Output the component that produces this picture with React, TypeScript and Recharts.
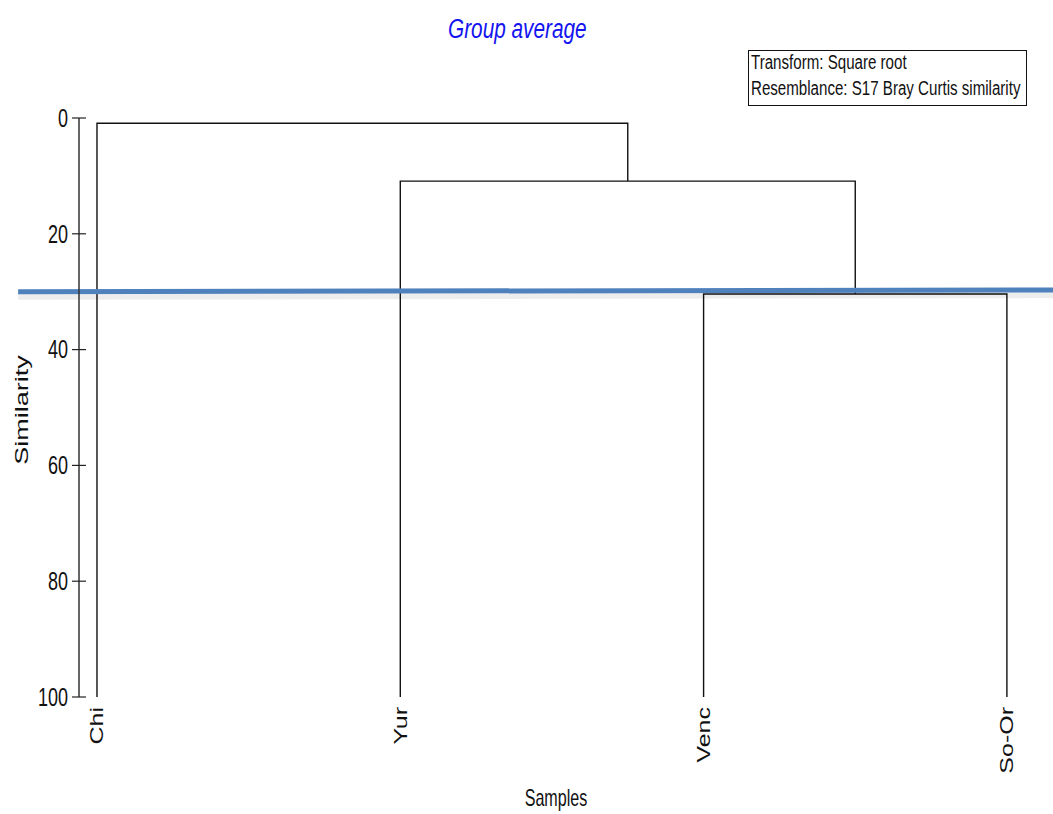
import { Line, LineChart, ReferenceLine, XAxis, YAxis } from "recharts";

// leaves of the dendrogram, left to right
const samples = ["Chi", "Yur", "Venc", "So-Or"];
// merges: cluster ids (0-3 = leaves, 4+ = earlier merges) and similarity of the join
const mergeLeft = [2, 1, 0];
const mergeRight = [3, 4, 5];
const mergeSimilarity = [30.4, 10.9, 0.9];
const similarityTicks = [0, 20, 40, 60, 80, 100];
// cut line drawn across the tree (start / end)
const cutX = [-0.26, 3.152];
const cutSimilarity = [30.0, 29.7];

const INK = "#111";
const CUT = "#4f81bd";
const FONT = '"Liberation Sans", Arial, sans-serif';

type Pt = { x: number; y: number };

function buildLinks() {
  const pos: number[] = samples.map((_, i) => i);
  const height: number[] = samples.map(() => 100);
  const links: Pt[][] = [];
  mergeLeft.forEach((a, i) => {
    const b = mergeRight[i];
    const h = mergeSimilarity[i];
    links.push([
      { x: pos[a], y: height[a] },
      { x: pos[a], y: h },
      { x: pos[b], y: h },
      { x: pos[b], y: height[b] },
    ]);
    pos.push((pos[a] + pos[b]) / 2);
    height.push(h);
  });
  return links;
}

function YTick({ x, y, payload }: any) {
  return (
    <g>
      <line x1={x - 7} x2={x + 7} y1={y} y2={y} stroke="#222" strokeWidth={1.2} />
      <text
        transform={`translate(${x - 11},${y}) scale(0.72,1)`}
        textAnchor="end"
        dy="0.35em"
        fontSize={25}
        fontFamily={FONT}
        fill="#111"
      >
        {payload.value}
      </text>
    </g>
  );
}

function XTick({ x, y, payload }: any) {
  return (
    <text
      transform={`translate(${x},${y + 10}) scale(0.73,1) rotate(-90)`}
      textAnchor="end"
      dy="0.35em"
      fontSize={25}
      fontFamily={FONT}
      fill="#111"
    >
      {samples[payload.value]}
    </text>
  );
}

export default function App() {
  const links = buildLinks();
  return (
    <div style={{ position: "absolute", left: 0, top: 0, width: 1053, height: 814, background: "#fff" }}>
      <LineChart width={1053} height={814} margin={{ top: 118, right: 0, bottom: 0, left: 0 }}>
        <XAxis
          type="number"
          dataKey="x"
          domain={[-0.0593, 3.152]}
          ticks={[0, 1, 2, 3]}
          interval={0}
          height={117}
          axisLine={false}
          tickLine={false}
          tickSize={0}
          tickMargin={0}
          tick={<XTick />}
          label={{
            content: () => (
              <text
                transform="translate(556,806) scale(0.7,1)"
                textAnchor="middle"
                fontSize={23}
                fontFamily={FONT}
                fill="#111"
              >
                Samples
              </text>
            ),
          }}
        />
        <YAxis
          type="number"
          reversed
          domain={[0, 100]}
          ticks={similarityTicks}
          interval={0}
          width={79}
          axisLine={{ stroke: "#333", strokeWidth: 1.5 }}
          tickLine={false}
          tickSize={0}
          tickMargin={0}
          tick={<YTick />}
          label={{
            content: () => (
              <text
                transform="translate(28,410) scale(0.69,1) rotate(-90)"
                textAnchor="middle"
                fontSize={27}
                fontFamily={FONT}
                fill="#111"
              >
                Similarity
              </text>
            ),
          }}
        />
        {links.map((pts, i) => (
          <Line
            key={i}
            data={pts}
            dataKey="y"
            type="linear"
            stroke={INK}
            strokeWidth={1.4}
            dot={false}
            activeDot={false}
            isAnimationActive={false}
          />
        ))}
        <ReferenceLine
          segment={[
            { x: cutX[0], y: cutSimilarity[0] + 0.8 },
            { x: cutX[1], y: cutSimilarity[1] + 0.8 },
          ]}
          stroke="#000"
          strokeOpacity={0.07}
          strokeWidth={7}
          ifOverflow="visible"
        />
        <ReferenceLine
          segment={[
            { x: cutX[0], y: cutSimilarity[0] },
            { x: cutX[1], y: cutSimilarity[1] },
          ]}
          stroke={CUT}
          strokeWidth={5}
          ifOverflow="visible"
        />
      </LineChart>
      <svg
        width={1053}
        height={814}
        style={{ position: "absolute", left: 0, top: 0, pointerEvents: "none" }}
      >
        <text
          transform="translate(448,38) scale(0.77,1)"
          fontSize={27}
          fontStyle="italic"
          fontFamily={FONT}
          fill="#1414f0"
        >
          Group average
        </text>
        <rect x={748.5} y={50.5} width={278} height={55} fill="#fff" stroke="#111" strokeWidth={1} />
        <text transform="translate(751,69) scale(0.775,1)" fontSize={19.5} fontFamily={FONT} fill="#111">
          Transform: Square root
        </text>
        <text transform="translate(751,95) scale(0.775,1)" fontSize={19.5} fontFamily={FONT} fill="#111">
          Resemblance: S17 Bray Curtis similarity
        </text>
      </svg>
    </div>
  );
}
